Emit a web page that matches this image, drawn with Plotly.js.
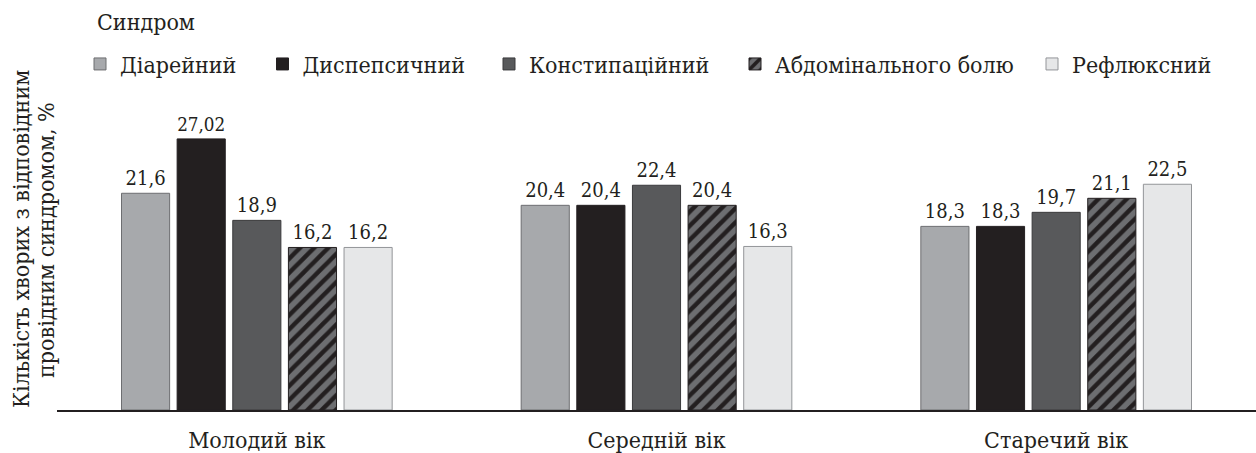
<!DOCTYPE html>
<html>
<head>
<meta charset="utf-8">
<script src="https://cdn.plot.ly/plotly-3.0.1.min.js"></script>
<style>html,body{margin:0;padding:0;background:#fff;}#chart{width:1256px;height:453px;}</style>
</head>
<body>
<div id="chart"></div>
<script>
const categories = ["Молодий вік", "Середній вік", "Старечий вік"];
const seriesNames = ["Діарейний", "Диспепсичний", "Констипаційний", "Абдомінального болю", "Рефлюксний"];
const diarrhea = [21.6, 20.4, 18.3];
const dyspeptic = [27.02, 20.4, 18.3];
const constipation = [18.9, 22.4, 19.7];
const abdominalPain = [16.2, 20.4, 21.1];
const reflux = [16.2, 16.3, 22.5];
const legendTitle = "Синдром";
const yTitleLines = ["Кількість хворих з відповідним", "провідним синдромом, %"];

const SERIF = "DejaVu Serif Condensed";
const TXT = "#231f20";
const FS = 23;
const FS_VAL = 20;
const seriesValues = [diarrhea, dyspeptic, constipation, abdominalPain, reflux];
const fills = ["#a7a9ac", "#231f20", "#58595b", "#6d6e71", "#e6e7e8"];
const lines = ["#6d6e71", "#231f20", "#3a3a3c", "#231f20", "#939598"];
const legendSymbolPx = [100, 282.5, 509, 755, 1052];
const PL = 57, PW = 1199, PB = 410, PH = 301;
const px2x = p => (p - PL) / PW;
const py2y = p => (PB - p) / PH;
const mkFont = (s) => ({family: SERIF, size: s || FS, color: TXT});

const fmt = v => String(v).replace(".", ",");
const legendIds = ["legend", "legend2", "legend3", "legend4", "legend5"];

const traces = seriesValues.map((vals, i) => {
  const marker = {color: fills[i], line: {color: lines[i], width: 1}};
  if (i === 3) {
    marker.pattern = {shape: "/", fgcolor: "#231f20", bgcolor: "#6d6e71", size: 10, solidity: 0.45, fillmode: "replace"};
  }
  return {
    type: "bar",
    name: seriesNames[i],
    x: categories,
    y: vals,
    text: vals.map(fmt),
    textposition: "outside",
    cliponaxis: false,
    textfont: mkFont(FS_VAL),
    outsidetextfont: mkFont(FS_VAL),
    marker: marker,
    legend: legendIds[i],
    hoverinfo: "none"
  };
});

const layout = {
  width: 1256,
  height: 453,
  margin: {l: PL, r: 0, t: 109, b: 43},
  paper_bgcolor: "#ffffff",
  plot_bgcolor: "#ffffff",
  barmode: "group",
  bargap: 0.304,
  bargroupgap: 0.135,
  font: mkFont(),
  showlegend: true,
  xaxis: {
    showline: true,
    linecolor: "#231f20",
    linewidth: 1.5,
    ticks: "",
    showgrid: false,
    zeroline: false,
    tickfont: mkFont(),
    ticklabelstandoff: 9
  },
  yaxis: {
    visible: false,
    range: [0, 30],
    showgrid: false,
    zeroline: false
  },
  annotations: [
    {
      text: legendTitle,
      xref: "paper", yref: "paper",
      x: px2x(95), y: py2y(22),
      xanchor: "left", yanchor: "middle",
      showarrow: false,
      font: mkFont()
    },
    {
      text: yTitleLines[0],
      xref: "paper", yref: "paper",
      x: px2x(21), y: py2y(239),
      xanchor: "center", yanchor: "middle",
      textangle: -90,
      showarrow: false,
      font: mkFont()
    },
    {
      text: yTitleLines[1],
      xref: "paper", yref: "paper",
      x: px2x(46), y: py2y(240),
      xanchor: "center", yanchor: "middle",
      textangle: -90,
      showarrow: false,
      font: mkFont()
    }
  ]
};

legendIds.forEach((id, i) => {
  layout[id] = {
    orientation: "h",
    x: px2x(legendSymbolPx[i] - 20),
    xanchor: "left",
    y: py2y(64),
    yanchor: "middle",
    font: mkFont(),
    itemwidth: 30,
    bgcolor: "rgba(0,0,0,0)",
    borderwidth: 0
  };
});

Plotly.newPlot("chart", traces, layout, {displayModeBar: false, staticPlot: true});
</script>
</body>
</html>
